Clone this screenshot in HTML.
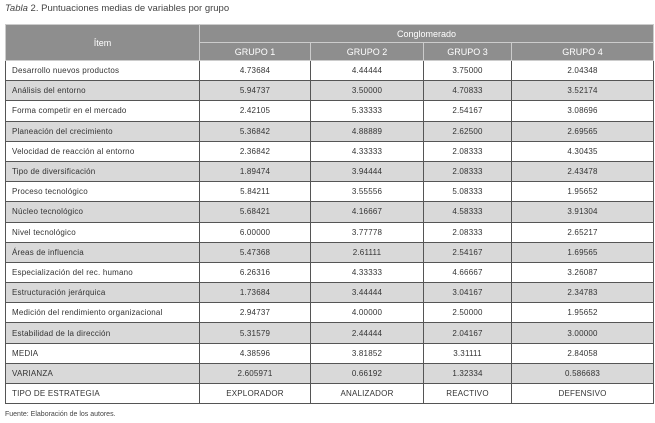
<!DOCTYPE html>
<html><head><meta charset="utf-8"><style>
body{margin:0;width:655px;height:423px;background:#fff;font-family:"Liberation Sans",sans-serif;color:#333;position:relative;overflow:hidden}
.t{position:absolute;left:5px;top:3px;font-size:9.5px;color:#444}
table{position:absolute;left:5px;top:24px;border-collapse:collapse;table-layout:fixed;width:648px;font-size:8px}
td,th{padding:0;overflow:hidden;white-space:nowrap}
th{background:#8e8e8e;color:#fff;font-weight:normal;font-size:9px;border:1px solid #ccc;height:17px}
tbody td{height:19.2px;border:1px solid #555;text-align:center;letter-spacing:0.2px}
tbody td:first-child{text-align:left;padding-left:6px}
tbody tr:nth-child(even) td{background:#d9d9d9}
.f{position:absolute;left:5px;top:411px;font-size:7px;color:#444}
</style></head><body>
<div class="t"><i>Tabla</i> 2. Puntuaciones medias de variables por grupo</div>
<table>
<colgroup><col style="width:194px"><col style="width:111px"><col style="width:113px"><col style="width:88px"><col style="width:142px"></colgroup>
<thead>
<tr><th rowspan="2">Ítem</th><th colspan="4">Conglomerado</th></tr>
<tr><th>GRUPO 1</th><th>GRUPO 2</th><th>GRUPO 3</th><th>GRUPO 4</th></tr>
</thead>
<tbody>
<tr><td>Desarrollo nuevos productos</td><td>4.73684</td><td>4.44444</td><td>3.75000</td><td>2.04348</td></tr>
<tr><td>Análisis del entorno</td><td>5.94737</td><td>3.50000</td><td>4.70833</td><td>3.52174</td></tr>
<tr><td>Forma competir en el mercado</td><td>2.42105</td><td>5.33333</td><td>2.54167</td><td>3.08696</td></tr>
<tr><td>Planeación del crecimiento</td><td>5.36842</td><td>4.88889</td><td>2.62500</td><td>2.69565</td></tr>
<tr><td>Velocidad de reacción al entorno</td><td>2.36842</td><td>4.33333</td><td>2.08333</td><td>4.30435</td></tr>
<tr><td>Tipo de diversificación</td><td>1.89474</td><td>3.94444</td><td>2.08333</td><td>2.43478</td></tr>
<tr><td>Proceso tecnológico</td><td>5.84211</td><td>3.55556</td><td>5.08333</td><td>1.95652</td></tr>
<tr><td>Núcleo tecnológico</td><td>5.68421</td><td>4.16667</td><td>4.58333</td><td>3.91304</td></tr>
<tr><td>Nivel tecnológico</td><td>6.00000</td><td>3.77778</td><td>2.08333</td><td>2.65217</td></tr>
<tr><td>Áreas de influencia</td><td>5.47368</td><td>2.61111</td><td>2.54167</td><td>1.69565</td></tr>
<tr><td>Especialización del rec. humano</td><td>6.26316</td><td>4.33333</td><td>4.66667</td><td>3.26087</td></tr>
<tr><td>Estructuración jerárquica</td><td>1.73684</td><td>3.44444</td><td>3.04167</td><td>2.34783</td></tr>
<tr><td>Medición del rendimiento organizacional</td><td>2.94737</td><td>4.00000</td><td>2.50000</td><td>1.95652</td></tr>
<tr><td>Estabilidad de la dirección</td><td>5.31579</td><td>2.44444</td><td>2.04167</td><td>3.00000</td></tr>
<tr><td>MEDIA</td><td>4.38596</td><td>3.81852</td><td>3.31111</td><td>2.84058</td></tr>
<tr><td>VARIANZA</td><td>2.605971</td><td>0.66192</td><td>1.32334</td><td>0.586683</td></tr>
<tr><td>TIPO DE ESTRATEGIA</td><td>EXPLORADOR</td><td>ANALIZADOR</td><td>REACTIVO</td><td>DEFENSIVO</td></tr>
</tbody>
</table>
<div class="f">Fuente: Elaboración de los autores.</div>
</body></html>
